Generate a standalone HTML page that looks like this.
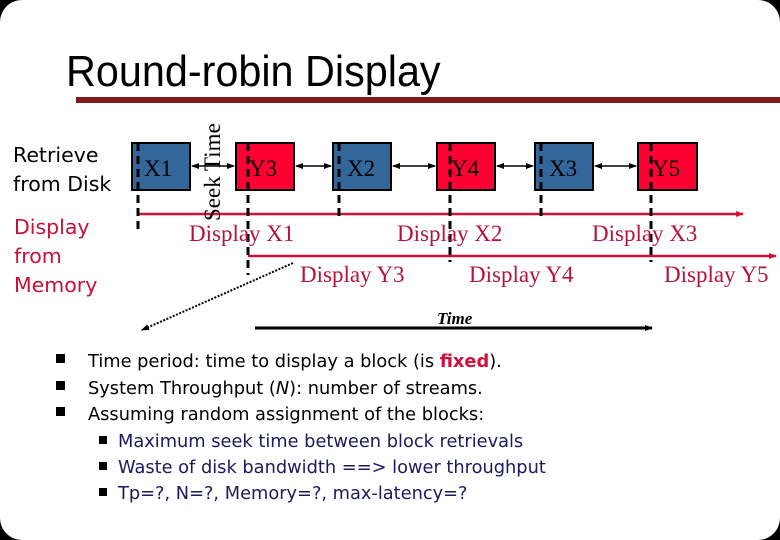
<!DOCTYPE html>
<html><head><meta charset="utf-8"><style>
html,body{margin:0;padding:0;background:#000;}
.s{position:relative;width:780px;height:540px;overflow:hidden;}
</style></head><body><div class="s">
<svg width="780" height="540" xmlns="http://www.w3.org/2000/svg">
<defs>
<marker id="ar" markerWidth="8" markerHeight="8" refX="7" refY="4" orient="auto" markerUnits="userSpaceOnUse"><path d="M0,1 L8,4 L0,7 z" fill="#d0103a"/></marker>
<marker id="ab" markerWidth="8" markerHeight="8" refX="7" refY="4" orient="auto" markerUnits="userSpaceOnUse"><path d="M0,1 L8,4 L0,7 z" fill="#000"/></marker>
<marker id="as" markerWidth="8" markerHeight="8" refX="1" refY="4" orient="auto" markerUnits="userSpaceOnUse"><path d="M8,1 L0,4 L8,7 z" fill="#000"/></marker>
</defs>
<rect x="0" y="0" width="780" height="540" rx="22" fill="#fff"/>
<text x="66" y="86" font-family="Liberation Sans, sans-serif" font-size="44" transform="translate(66 0) scale(0.94 1) translate(-66 0)">Round-robin Display</text>
<rect x="76" y="97" width="704" height="6" fill="#7f1a1a"/>
<g font-family="DejaVu Sans, sans-serif" font-size="20.5">
<text x="13" y="162">Retrieve</text><text x="13" y="191">from Disk</text>
<g fill="#c8103a"><text x="14" y="234">Display</text><text x="14" y="263">from</text><text x="14" y="292">Memory</text></g>
</g>
<g stroke="#000" stroke-width="2">
<rect x="132" y="143" width="58" height="47" fill="#336699"/>
<rect x="236" y="143" width="58" height="47" fill="#ff0033"/>
<rect x="333" y="143" width="58" height="47" fill="#336699"/>
<rect x="437" y="143" width="58" height="47" fill="#ff0033"/>
<rect x="535" y="143" width="58" height="47" fill="#336699"/>
<rect x="638" y="143" width="59" height="47" fill="#ff0033"/>
</g>
<g font-family="Liberation Serif, serif" font-size="23">
<text x="144" y="176">X1</text><text x="249" y="176">Y3</text><text x="347" y="176">X2</text>
<text x="451" y="176">Y4</text><text x="549" y="176">X3</text><text x="652" y="176">Y5</text>
</g>
<g stroke="#000" stroke-width="1.5" marker-start="url(#as)" marker-end="url(#ab)">
<line x1="192" y1="166" x2="234" y2="166"/><line x1="296" y1="166" x2="331" y2="166"/>
<line x1="393" y1="166" x2="435" y2="166"/><line x1="497" y1="166" x2="533" y2="166"/>
<line x1="595" y1="166" x2="636" y2="166"/>
</g>
<g stroke="#d0103a" stroke-width="2.5">
<line x1="138" y1="214" x2="743" y2="214" marker-end="url(#ar)"/>
<line x1="248" y1="256" x2="776" y2="256" marker-end="url(#ar)"/>
</g>
<g stroke="#000" stroke-width="3" stroke-dasharray="8,5">
<line x1="138" y1="143" x2="138" y2="232"/><line x1="248" y1="143" x2="248" y2="275"/>
<line x1="339" y1="143" x2="339" y2="220"/><line x1="450" y1="143" x2="450" y2="262"/>
<line x1="541" y1="143" x2="541" y2="220"/><line x1="651" y1="143" x2="651" y2="262"/>
</g>
<text transform="translate(220 221) rotate(-90)" font-family="Liberation Serif, serif" font-size="23">Seek Time</text>
<g font-family="Liberation Serif, serif" font-size="23" fill="#b5123e">
<text x="189" y="241">Display X1</text><text x="397" y="241">Display X2</text><text x="592" y="241">Display X3</text>
<text x="300" y="282">Display Y3</text><text x="469" y="282">Display Y4</text><text x="664" y="282">Display Y5</text>
</g>
<line x1="293" y1="263" x2="142" y2="330" stroke="#000" stroke-width="2" stroke-dasharray="2,1.5" marker-end="url(#ab)"/>
<line x1="255" y1="328" x2="652" y2="328" stroke="#000" stroke-width="3" marker-end="url(#ab)"/>
<text x="437" y="324" font-family="Liberation Serif, serif" font-size="17" font-weight="bold" font-style="italic">Time</text>
<g font-family="DejaVu Sans, sans-serif" font-size="17.8">
<g fill="#000"><rect x="56" y="354" width="9" height="9"/><rect x="56" y="381" width="9" height="9"/><rect x="56" y="407" width="9" height="9"/></g>
<text x="88" y="367">Time period: time to display a block (is <tspan fill="#d0103a" font-weight="bold">fixed</tspan>).</text>
<text x="88" y="394">System Throughput (<tspan font-style="italic">N</tspan>): number of streams.</text>
<text x="88" y="420">Assuming random assignment of the blocks:</text>
<g fill="#000"><rect x="99" y="436" width="8" height="8"/><rect x="99" y="462" width="8" height="8"/><rect x="99" y="488" width="8" height="8"/></g>
<g fill="#1a1a5e">
<text x="118" y="447">Maximum seek time between block retrievals</text>
<text x="118" y="473">Waste of disk bandwidth ==&gt; lower throughput</text>
<text x="118" y="499">Tp=?, N=?, Memory=?, max-latency=?</text>
</g>
</g>
</svg>
</div></body></html>
